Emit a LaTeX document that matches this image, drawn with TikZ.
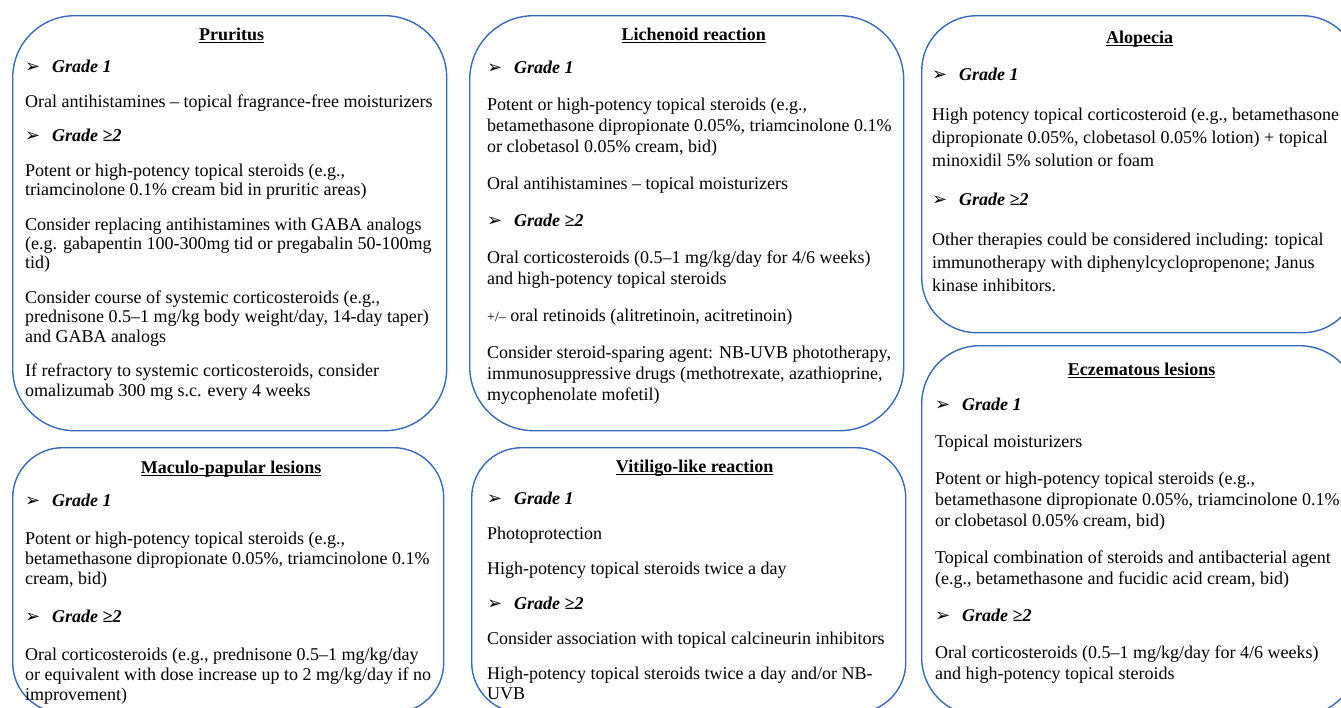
\documentclass[tikz,border=0pt]{standalone}
\usepackage{fontspec}
\setmainfont{Liberation Serif}
\newfontfamily\symfont{DejaVu Sans}
\usetikzlibrary{positioning}
\definecolor{panelblue}{RGB}{60,104,184}
\newlength{\boxgap}
\tikzset{panel/.style={draw=panelblue,line width=1.4pt,rounded corners=#1,
        anchor=north west,inner sep=0pt},
  heading/.style={anchor=base,inner sep=0pt,
        font=\fontsize{18}{20}\selectfont\bfseries},
  body/.style 2 args={anchor=north west,yshift=14pt,align=left,inner sep=0pt,
        font=\fontsize{18}{#1}\selectfont,
        execute at begin node={\setlength{\boxgap}{#2}\rule{0pt}{14pt}}}}
\newcommand{\grade}[1]{\makebox[27pt][l]{\symfont\fontsize{18}{18}\selectfont ➢}%
  \textbf{\textit{Grade #1}}}
\newcommand{\headline}[1]{\setbox0=\hbox{#1}\rlap{\rule[-3pt]{\wd0}{1pt}}\box0}

\begin{document}
\begin{tikzpicture}[x=1pt,y=-1pt]
  \useasboundingbox (0,0) rectangle (1341,707);
  \clip (0,0) rectangle (1341,707);
  %% Pruritus
  \node[panel=62pt,minimum width=434pt,minimum height=415pt] (pruritus) at (12,15) {};
  \node[heading] (pruritus-t) at ([xshift=2pt,yshift=-25pt]pruritus.north)
       {\headline{Pruritus}};
  \node[body={19.3pt}{15.3pt}] (pruritus-b) at (25,74) {%
    \grade{1}\\[\boxgap]
    Oral antihistamines – topical fragrance-free moisturizers\\[\boxgap]
    \grade{≥2}\\[\boxgap]
    Potent or high-potency topical steroids (e.g.,\\
    triamcinolone 0.1\% cream bid in pruritic areas)\\[\boxgap]
    Consider replacing antihistamines with GABA analogs\\
    (e.g. gabapentin 100-300mg tid or pregabalin 50-100mg\\
    tid)\\[\boxgap]
    Consider course of systemic corticosteroids (e.g.,\\
    prednisone 0.5–1 mg/kg body weight/day, 14-day taper)\\
    and GABA analogs\\[\boxgap]
    If refractory to systemic corticosteroids, consider\\
    omalizumab 300 mg s.c. every 4 weeks};
  %% Maculo-papular lesions
  \node[panel=50pt,minimum width=431pt,minimum height=265pt] (maculo) at (12,447) {};
  \node[heading] (maculo-t) at ([xshift=3pt,yshift=-26pt]maculo.north)
       {\headline{Maculo-papular lesions}};
  \node[body={20pt}{18pt}] (maculo-b) at (25,508) {%
    \grade{1}\\[\boxgap]
    Potent or high-potency topical steroids (e.g.,\\
    betamethasone dipropionate 0.05\%, triamcinolone 0.1\%\\
    cream, bid)\\[\boxgap]
    \grade{≥2}\\[\boxgap]
    Oral corticosteroids (e.g., prednisone 0.5–1 mg/kg/day\\
    or equivalent with dose increase up to 2 mg/kg/day if no\\
    improvement)};
  %% Lichenoid reaction
  \node[panel=64pt,minimum width=434pt,minimum height=415pt] (lichenoid) at (469,15) {};
  \node[heading] (lichenoid-t) at ([xshift=7pt,yshift=-25pt]lichenoid.north)
       {\headline{Lichenoid reaction}};
  \node[body={21pt}{16pt}] (lichenoid-b) at (487,75) {%
    \grade{1}\\[\boxgap]
    Potent or high-potency topical steroids (e.g.,\\
    betamethasone dipropionate 0.05\%, triamcinolone 0.1\%\\
    or clobetasol 0.05\% cream, bid)\\[\boxgap]
    Oral antihistamines – topical moisturizers\\[\boxgap]
    \grade{≥2}\\[\boxgap]
    Oral corticosteroids (0.5–1 mg/kg/day for 4/6 weeks)\\
    and high-potency topical steroids\\[\boxgap]
    {\fontsize{14}{21}\selectfont +/–} oral retinoids (alitretinoin, acitretinoin)\\[\boxgap]
    Consider steroid-sparing agent: NB-UVB phototherapy,\\
    immunosuppressive drugs (methotrexate, azathioprine,\\
    mycophenolate mofetil)};
  %% Vitiligo-like reaction
  \node[panel=50pt,minimum width=434pt,minimum height=265pt] (vitiligo) at (471,447) {};
  \node[heading] (vitiligo-t) at ([xshift=6pt,yshift=-25pt]vitiligo.north)
       {\headline{Vitiligo-like reaction}};
  \node[body={19.5pt}{15.5pt}] (vitiligo-b) at (487,506) {%
    \grade{1}\\[\boxgap]
    Photoprotection\\[\boxgap]
    High-potency topical steroids twice a day\\[\boxgap]
    \grade{≥2}\\[\boxgap]
    Consider association with topical calcineurin inhibitors\\[\boxgap]
    High-potency topical steroids twice a day and/or NB-\\
    UVB};
  %% Alopecia
  \node[panel=55pt,minimum width=436pt,minimum height=317pt] (alopecia) at (921,15) {};
  \node[heading] (alopecia-t) at ([yshift=-28pt]alopecia.north)
       {\headline{Alopecia}};
  \node[body={23pt}{16.5pt}] (alopecia-b) at (932,82) {%
    \grade{1}\\[\boxgap]
    High potency topical corticosteroid (e.g., betamethasone\\
    dipropionate 0.05\%, clobetasol 0.05\% lotion) + topical\\
    minoxidil 5\% solution or foam\\[\boxgap]
    \grade{≥2}\\[\boxgap]
    Other therapies could be considered including: topical\\
    immunotherapy with diphenylcyclopropenone; Janus\\
    kinase inhibitors.};
  %% Eczematous lesions
  \node[panel=58pt,minimum width=436pt,minimum height=370pt] (eczema) at (921,345) {};
  \node[heading] (eczema-t) at ([xshift=2pt,yshift=-30pt]eczema.north)
       {\headline{Eczematous lesions}};
  \node[body={21pt}{16pt}] (eczema-b) at (935,412) {%
    \grade{1}\\[\boxgap]
    Topical moisturizers\\[\boxgap]
    Potent or high-potency topical steroids (e.g.,\\
    betamethasone dipropionate 0.05\%, triamcinolone 0.1\%\\
    or clobetasol 0.05\% cream, bid)\\[\boxgap]
    Topical combination of steroids and antibacterial agent\\
    (e.g., betamethasone and fucidic acid cream, bid)\\[\boxgap]
    \grade{≥2}\\[\boxgap]
    Oral corticosteroids (0.5–1 mg/kg/day for 4/6 weeks)\\
    and high-potency topical steroids};
\end{tikzpicture}
\end{document}
